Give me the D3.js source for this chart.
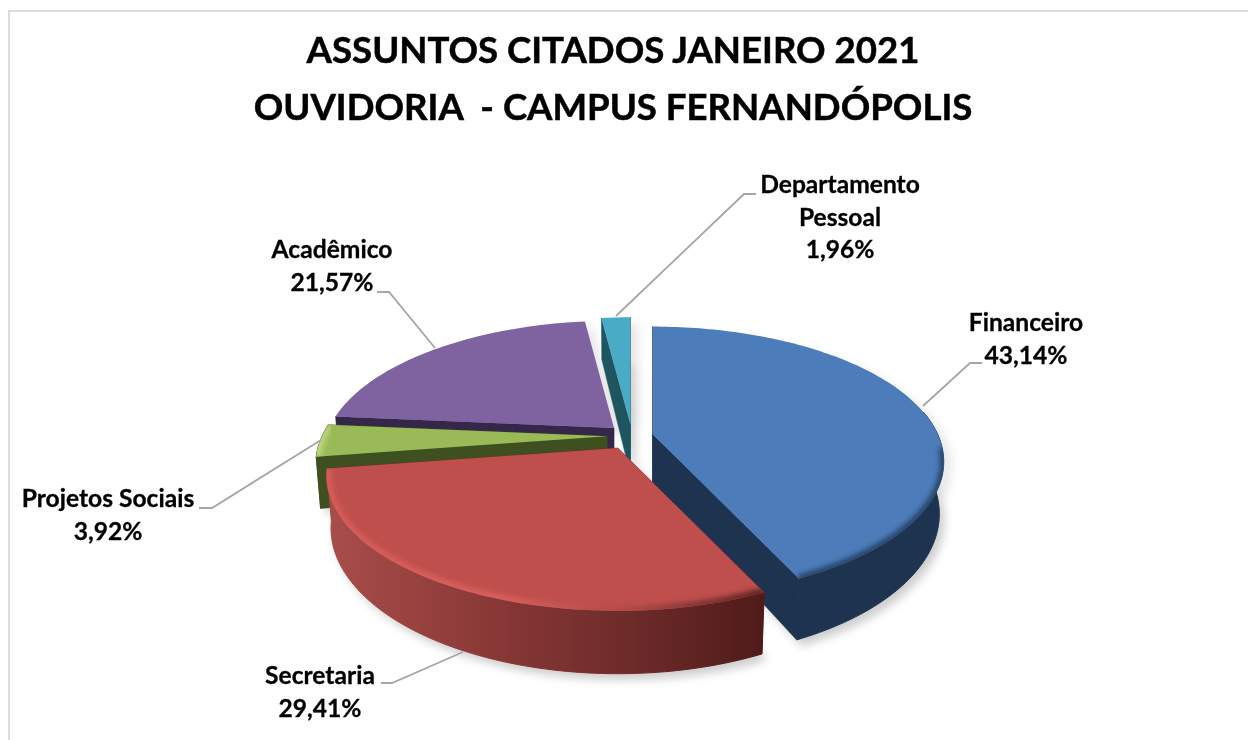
<!DOCTYPE html>
<html>
<head>
<meta charset="utf-8">
<script src="https://cdn.jsdelivr.net/npm/d3@7"></script>
<style>html,body{margin:0;padding:0;background:#fff;overflow:hidden}svg{display:block}</style>
</head>
<body>
<svg id="chart" width="1248" height="740"></svg>
<script>
// Data
const titleLines = ["ASSUNTOS CITADOS JANEIRO 2021", "OUVIDORIA  - CAMPUS FERNANDÓPOLIS"];
const categories = ["Financeiro", "Secretaria", "Projetos Sociais", "Acadêmico", "Departamento Pessoal"];
const values = [43.14, 29.41, 3.92, 21.57, 1.96];
const valueLabels = ["43,14%", "29,41%", "3,92%", "21,57%", "1,96%"];
// Style
const topColors = ["#4c7dba", "#bf4f4c", "#9aba58", "#7f62a0", "#49abc6"];
const wallColors = ["#1d334f", "#6b2a29", "#3f5020", "#35274a", "#1d5560"];
const explode = [21, 30, 25, 25, 25];
const drawOrder = [4, 3, 2, 0, 1];
const labelLines = [["Financeiro", "43,14%"], ["Secretaria", "29,41%"], ["Projetos Sociais", "3,92%"], ["Acadêmico", "21,57%"], ["Departamento", "Pessoal", "1,96%"]];
const labelCenter = [[1026, 331], [320, 684], [108, 507], [332, 258], [840, 193]];
const leaders = [
  [[923,406],[970,363],[982,363]],
  [[463,652],[392,683],[381,683]],
  [[321,440],[212,508],[199,508]],
  [[435,348],[389,292],[377,292]],
  [[616,316],[744,194],[756,194]]
];

const svg = d3.select("#chart");
const defs = svg.append("defs");
const cx = 632, cy = 436, R = 285, K = 0.00072, A = 0.454, H = 50, SHR = 0.985;

const blur = (id, sd) => defs.append("filter").attr("id", id)
  .attr("x","-20%").attr("y","-20%").attr("width","140%").attr("height","140%")
  .append("feGaussianBlur").attr("stdDeviation", sd);
blur("shadowBlur", 5); blur("rimBlur", 2.4);

const redWall = defs.append("linearGradient").attr("id","redWall")
  .attr("gradientUnits","userSpaceOnUse").attr("x1",330).attr("x2",762).attr("y1",0).attr("y2",0);
[[0,"#a84d4a"],[0.4,"#873735"],[0.72,"#6b2a29"],[1,"#4f1b19"]].forEach(s=>redWall.append("stop").attr("offset",s[0]).attr("stop-color",s[1]));
const redRim = defs.append("linearGradient").attr("id","redRim")
  .attr("gradientUnits","userSpaceOnUse").attr("x1",330).attr("x2",762).attr("y1",0).attr("y2",0);
[[0,"#d65c59"],[0.42,"#d65f5c"],[0.72,"#a84643"],[1,"#5e2422"]].forEach(s=>redRim.append("stop").attr("offset",s[0]).attr("stop-color",s[1]));

const slices = d3.pie().sort(null).value(d=>d)(values);

// Projection of a point on the pie plane, relative to a slice's own apex
const proj = (theta, r, bottom) => {
  const X = r*Math.sin(theta), Y = -r*Math.cos(theta), s = 1/(1-K*Y);
  return bottom ? [X*s*SHR, A*Y*s + H*s] : [X*s, A*Y*s];
};
const apexOf = i => {
  const m = (slices[i].startAngle + slices[i].endAngle)/2;
  return [cx + explode[i]*Math.sin(m), cy - A*explode[i]*Math.cos(m)];
};
const arcPts = (a0, a1, bottom) => {
  const n = Math.max(2, Math.ceil((a1-a0)/0.02));
  return d3.range(n+1).map(j => proj(a0+(a1-a0)*j/n, R, bottom));
};
const line = d3.line();
const move = (pts, o) => pts.map(p => [p[0]+o[0], p[1]+o[1]]);
const FRONT0 = 80*Math.PI/180, FRONT1 = 275*Math.PI/180, RIM0 = 96*Math.PI/180;

const shadow = svg.append("g").attr("filter","url(#shadowBlur)").attr("opacity",0.3);
const body = svg.append("g");

// Chart frame
svg.append("path").attr("d", line([[9,740],[9,11],[1248,11]])).attr("fill","none").attr("stroke","#dcdcdc").attr("stroke-width",2);

slices.forEach((d,i)=>{
  const o = apexOf(i);
  const bot = [proj(0,0,true), ...arcPts(d.startAngle,d.endAngle,true)];
  const top = [proj(0,0,false), ...arcPts(d.startAngle,d.endAngle,false)];
  shadow.append("path").attr("d",line(move(bot,[o[0]+5,o[1]+6]))+"Z").attr("fill","#555");
  shadow.append("path").attr("d",line(move(top,[o[0]+8,o[1]+6]))+"Z").attr("fill","#777").attr("opacity",0.55);
});

drawOrder.forEach(i=>{
  const d = slices[i], o = apexOf(i), g = body.append("g");
  const a0 = d.startAngle, a1 = d.endAngle;
  const wall = wallColors[i];
  // radial walls (the Acadêmico end face turns away from the viewer)
  (i===3 ? [a0] : [a0,a1]).forEach(a=>{
    const q = [proj(0,0,false), proj(a,R,false), proj(a,R,true), proj(0,0,true)];
    g.append("path").attr("d",line(move(q,o))+"Z").attr("fill", wall).attr("stroke",wall).attr("stroke-width",0.5);
  });
  // outer wall
  const f0 = Math.max(a0,FRONT0), f1 = Math.min(a1,FRONT1);
  if (f1 > f0) {
    const q = [...arcPts(f0,f1,false), ...arcPts(f0,f1,true).reverse()];
    const fill = i===1 ? "url(#redWall)" : wall;
    g.append("path").attr("d",line(move(q,o))+"Z").attr("fill", fill).attr("stroke",fill).attr("stroke-width",1);
  }
  // top face
  const top = [proj(0,0,false), ...arcPts(a0,a1,false)];
  const topD = line(move(top,o))+"Z";
  g.append("path").attr("d",topD).attr("fill",topColors[i]);
  const clipId = "clip"+i;
  defs.append("clipPath").attr("id",clipId).append("path").attr("d",topD);
  // soft bevel along the front rim
  const r0 = Math.max(a0,RIM0);
  if (f1 > r0) {
    const rim = move(arcPts(r0,f1,false),o);
    const rimColor = i===1 ? "url(#redRim)" : i===0 ? "#27456b" : i===2 ? "#b7d47a" : wall;
    g.append("g").attr("clip-path","url(#"+clipId+")").append("path")
      .attr("d",line(rim)).attr("fill","none").attr("stroke",rimColor)
      .attr("stroke-width", i===0 ? 8 : 10).attr("filter","url(#rimBlur)");
  }
});

// Leader lines
svg.append("g").selectAll("path").data(leaders).join("path")
  .attr("d",d=>line(d)).attr("fill","none").attr("stroke","#a6a6a6").attr("stroke-width",1.8);

// Text
const FONT = "Lato, 'Open Sans', sans-serif";
const title = svg.append("g").attr("font-family",FONT).attr("font-weight",700).attr("font-size",36.6).attr("text-anchor","middle").attr("fill","#000").attr("stroke","#000").attr("stroke-width",0.5);
titleLines.forEach((t,i)=>title.append("text").attr("x",613).attr("y",63+i*57).attr("xml:space","preserve").text(t));
const labels = svg.append("g").attr("font-family",FONT).attr("font-weight",700).attr("font-size",24.6).attr("text-anchor","middle").attr("fill","#000").attr("stroke","#000").attr("stroke-width",0.3);
labelLines.forEach((ls,i)=>ls.forEach((t,j)=>labels.append("text").attr("x",labelCenter[i][0]).attr("y",labelCenter[i][1]+j*32.5).text(t)));
</script>
</body>
</html>
